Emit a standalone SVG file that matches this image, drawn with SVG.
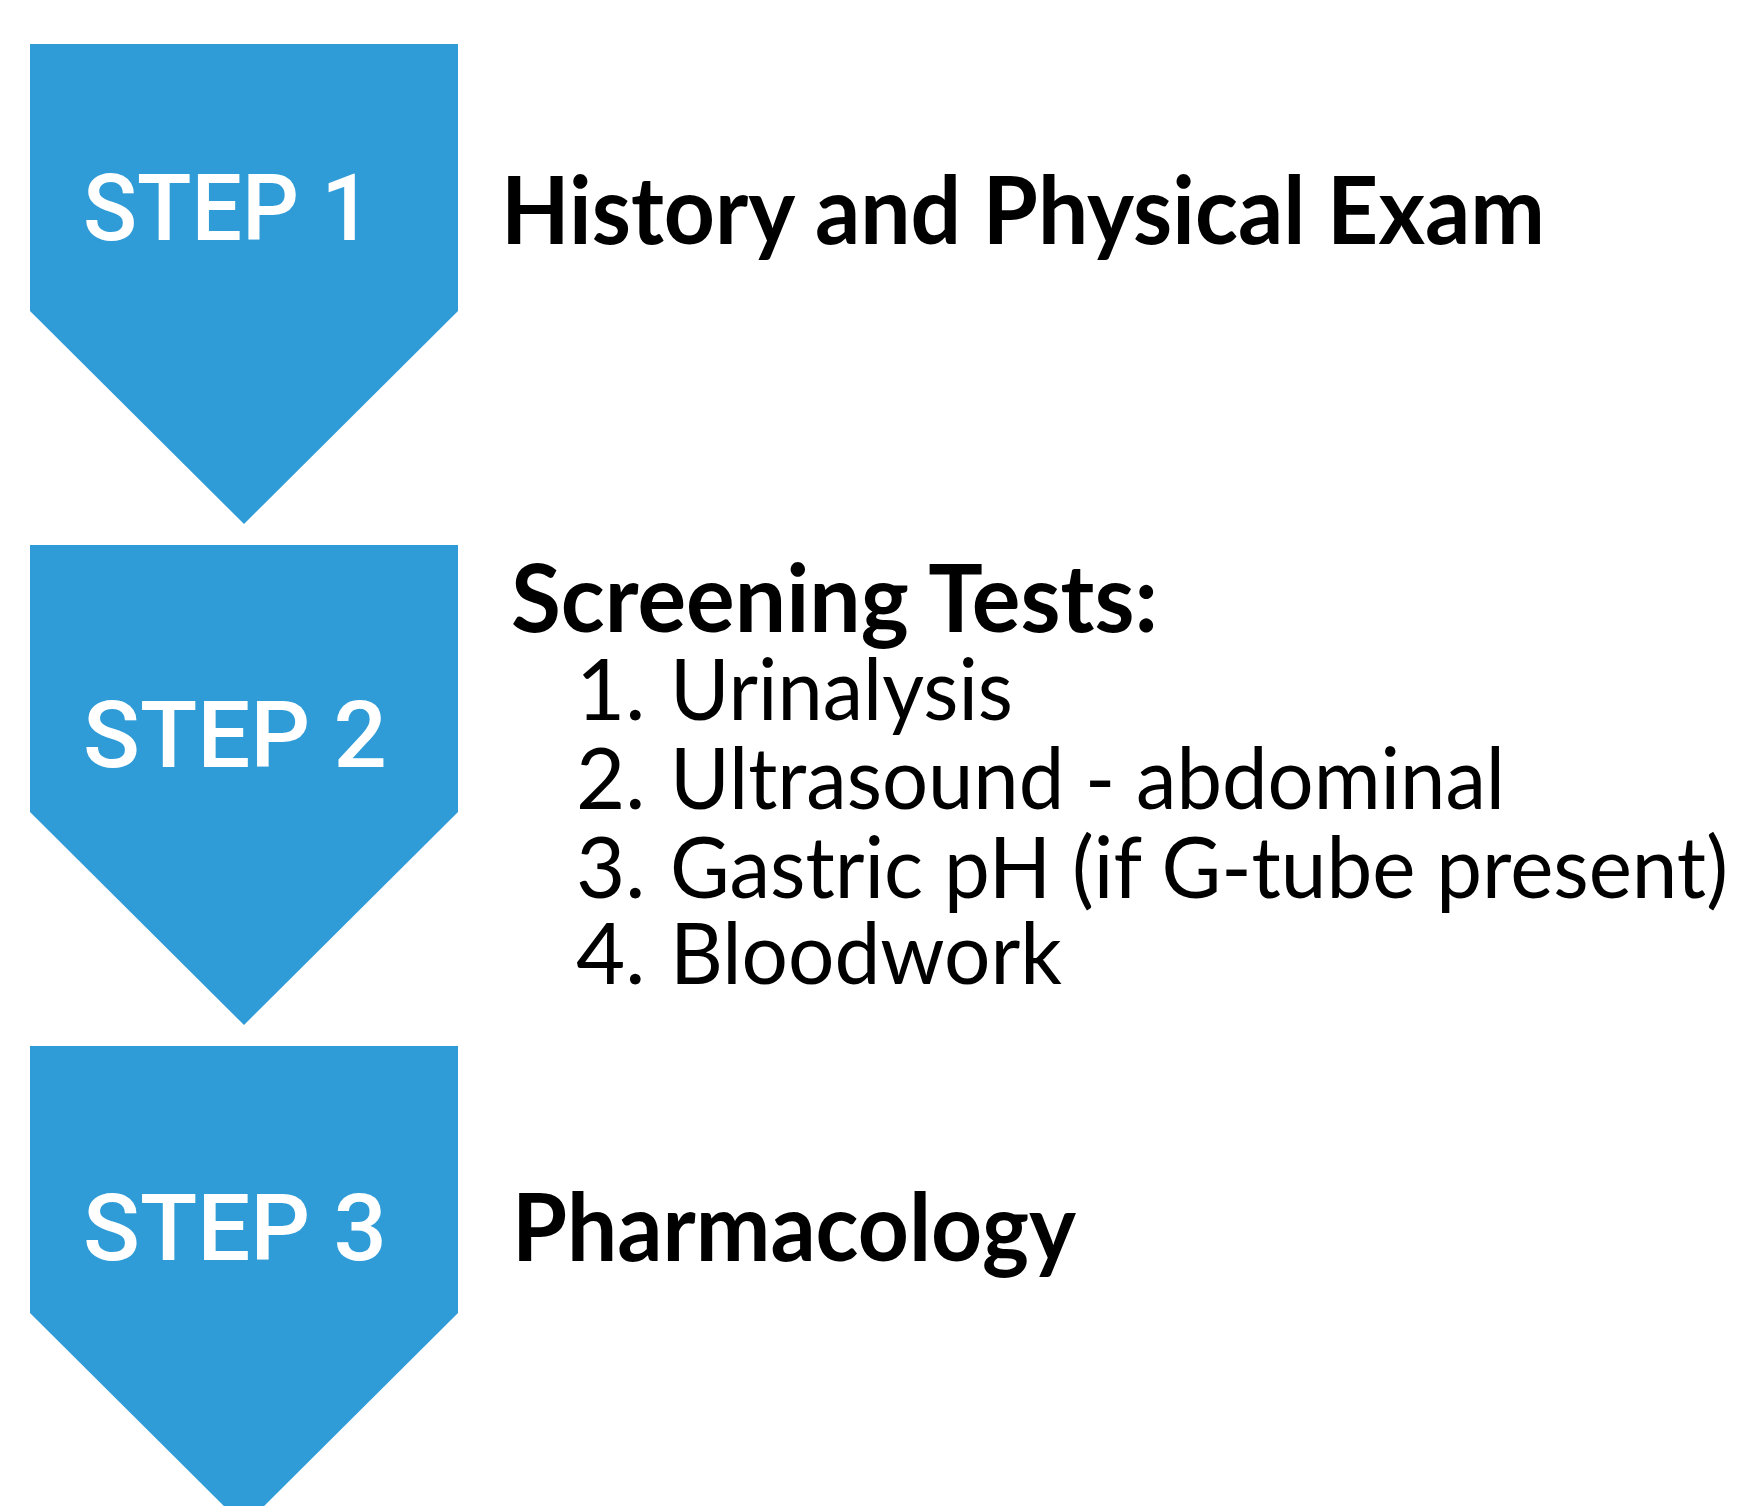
<svg xmlns="http://www.w3.org/2000/svg" width="1738" height="1506" viewBox="0 0 1738 1506">
<style>
.arrow{fill:#309cd7}
.step{font-family:Roboto,"Liberation Sans",sans-serif;font-weight:500;font-size:93px;fill:#ffffff}
.head{font-family:Lato,"Liberation Sans",sans-serif;font-weight:700;font-size:93px;fill:#000000}
.item{font-family:Lato,"Liberation Sans",sans-serif;font-weight:400;font-size:85px;fill:#000000}
</style>
<rect width="1738" height="1506" fill="#ffffff"/>
<g id="step1">
<polygon class="arrow" points="30,44 458,44 458,311 244,524 30,311"/>
<text class="step" x="83" y="240" textLength="289" lengthAdjust="spacingAndGlyphs">STEP 1</text>
<text class="head" x="501" y="244" textLength="1044" lengthAdjust="spacingAndGlyphs">History and Physical Exam</text>
</g>
<g id="step2">
<polygon class="arrow" points="30,545 458,545 458,812 244,1025 30,812"/>
<text class="step" x="83" y="767" textLength="304" lengthAdjust="spacingAndGlyphs">STEP 2</text>
<text class="head" x="511" y="632" textLength="647" lengthAdjust="spacingAndGlyphs">Screening Tests:</text>
<text class="item" x="576" y="720">1.</text><text class="item" x="670" y="720" textLength="343" lengthAdjust="spacingAndGlyphs">Urinalysis</text>
<text class="item" x="576" y="809">2.</text><text class="item" x="670" y="809" textLength="835" lengthAdjust="spacingAndGlyphs">Ultrasound - abdominal</text>
<text class="item" x="576" y="898">3.</text><text class="item" x="670" y="898" textLength="1058" lengthAdjust="spacingAndGlyphs">Gastric pH (if G-tube present)</text>
<text class="item" x="576" y="984">4.</text><text class="item" x="670" y="984" textLength="392" lengthAdjust="spacingAndGlyphs">Bloodwork</text>
</g>
<g id="step3">
<polygon class="arrow" points="30,1046 458,1046 458,1313 244,1526 30,1313"/>
<text class="step" x="83" y="1260" textLength="304" lengthAdjust="spacingAndGlyphs">STEP 3</text>
<text class="head" x="512" y="1261" textLength="564" lengthAdjust="spacingAndGlyphs">Pharmacology</text>
</g>
<g id="connectors"></g>
</svg>
